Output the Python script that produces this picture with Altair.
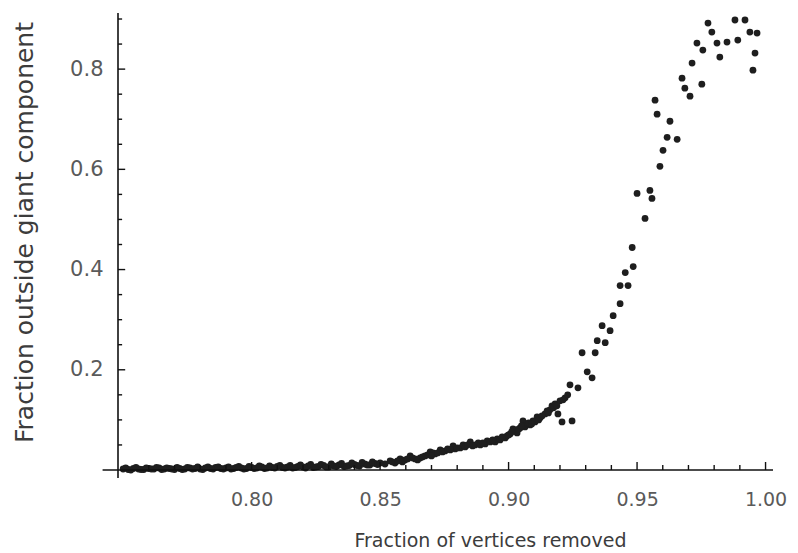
import altair as alt
import pandas as pd

# ---- data ----
flat_x = [0.750, 0.752, 0.754, 0.756, 0.758, 0.760, 0.762, 0.764, 0.766, 0.768,
          0.770, 0.772, 0.774, 0.776, 0.778, 0.780, 0.782, 0.784, 0.786, 0.788,
          0.790, 0.792, 0.794, 0.796, 0.798, 0.800, 0.802, 0.804, 0.806, 0.808,
          0.810, 0.812, 0.814, 0.816, 0.818, 0.820, 0.822, 0.824, 0.826, 0.828,
          0.830, 0.832, 0.834, 0.836, 0.838, 0.840, 0.842, 0.844, 0.846, 0.848]
flat_y = [0.002, 0.001, 0.003, 0.002, 0.001, 0.003, 0.002, 0.004, 0.002, 0.003,
          0.001, 0.003, 0.002, 0.004, 0.003, 0.002, 0.004, 0.003, 0.005, 0.003,
          0.004, 0.002, 0.005, 0.004, 0.003, 0.005, 0.004, 0.006, 0.004, 0.005,
          0.007, 0.005, 0.006, 0.004, 0.007, 0.006, 0.008, 0.005, 0.007, 0.009,
          0.006, 0.008, 0.010, 0.007, 0.009, 0.011, 0.008, 0.012, 0.010, 0.013]

flat2_x = [0.751, 0.753, 0.755, 0.757, 0.759, 0.761, 0.763, 0.765, 0.767, 0.769,
           0.771, 0.773, 0.775, 0.777, 0.779, 0.781, 0.783, 0.785, 0.787, 0.789,
           0.791, 0.793, 0.795, 0.797, 0.799, 0.801, 0.803, 0.805, 0.807, 0.809,
           0.811, 0.813, 0.815, 0.817, 0.819, 0.821, 0.823, 0.825, 0.827, 0.829,
           0.831, 0.833, 0.835, 0.837, 0.839, 0.841, 0.843, 0.845, 0.847, 0.849]
flat2_y = [0.004, 0.000, 0.005, 0.001, 0.004, 0.002, 0.005, 0.001, 0.004, 0.002,
           0.005, 0.001, 0.005, 0.002, 0.006, 0.001, 0.006, 0.002, 0.006, 0.002,
           0.006, 0.003, 0.007, 0.002, 0.007, 0.003, 0.008, 0.003, 0.008, 0.004,
           0.009, 0.004, 0.009, 0.005, 0.010, 0.004, 0.011, 0.006, 0.011, 0.006,
           0.012, 0.007, 0.013, 0.008, 0.014, 0.009, 0.015, 0.010, 0.016, 0.011]

rise_x = [0.8500, 0.8539, 0.8558, 0.8578, 0.8597, 0.8617, 0.8636, 0.8656, 0.8675, 0.8695,
          0.8706, 0.8714, 0.8734, 0.8753, 0.8784, 0.8792, 0.8812, 0.8823, 0.8831, 0.8851,
          0.8870, 0.8882, 0.8890, 0.8909, 0.8917, 0.8929, 0.8948, 0.8956, 0.8967, 0.8987,
          0.8994, 0.9006, 0.9017, 0.9025, 0.9033, 0.9045, 0.9056, 0.9064, 0.9072, 0.9084,
          0.9095, 0.9103, 0.9111, 0.9122, 0.9142, 0.9150, 0.9161, 0.9169, 0.9181, 0.9192,
          0.9200, 0.9208, 0.9220, 0.9239, 0.9247, 0.9270, 0.9286, 0.9306, 0.9325, 0.9337,
          0.9345, 0.9364, 0.9376, 0.9395, 0.9407, 0.9434, 0.9434, 0.9454, 0.9465, 0.9481,
          0.9485, 0.9500, 0.9531, 0.9550, 0.9558, 0.9570, 0.9578, 0.9589, 0.9601, 0.9617,
          0.9628, 0.9656, 0.9675, 0.9686, 0.9706, 0.9714, 0.9733, 0.9752, 0.9756, 0.9776,
          0.9791, 0.9811, 0.9822, 0.9850, 0.9881, 0.9892, 0.9920, 0.9939, 0.9951, 0.9959,
          0.9967]
rise_y = [0.014, 0.018, 0.014, 0.022, 0.020, 0.028, 0.022, 0.024, 0.028, 0.036,
          0.034, 0.032, 0.040, 0.038, 0.048, 0.042, 0.044, 0.050, 0.046, 0.056,
          0.050, 0.054, 0.050, 0.052, 0.058, 0.056, 0.056, 0.062, 0.060, 0.064,
          0.068, 0.072, 0.082, 0.080, 0.074, 0.084, 0.098, 0.086, 0.092, 0.090,
          0.098, 0.096, 0.106, 0.104, 0.112, 0.118, 0.120, 0.128, 0.132, 0.112,
          0.138, 0.096, 0.144, 0.170, 0.098, 0.164, 0.234, 0.196, 0.184, 0.234,
          0.258, 0.288, 0.254, 0.278, 0.308, 0.332, 0.368, 0.394, 0.368, 0.444,
          0.406, 0.552, 0.502, 0.558, 0.542, 0.738, 0.710, 0.606, 0.638, 0.664,
          0.696, 0.660, 0.782, 0.762, 0.746, 0.812, 0.852, 0.770, 0.838, 0.892,
          0.874, 0.852, 0.824, 0.854, 0.898, 0.858, 0.898, 0.874, 0.798, 0.832,
          0.872]

band_x = [0.8519, 0.8548, 0.8568, 0.8587, 0.8607, 0.8626, 0.8646, 0.8665, 0.8685, 0.8700,
          0.8724, 0.8743, 0.8763, 0.8773, 0.8800, 0.8840, 0.8860, 0.8900, 0.8938, 0.8975,
          0.9000, 0.9012, 0.9040, 0.9050, 0.9078, 0.9090, 0.9117, 0.9130, 0.9155, 0.9175,
          0.9188, 0.9212, 0.9230]
band_y = [0.012, 0.016, 0.018, 0.016, 0.022, 0.024, 0.020, 0.026, 0.030, 0.028,
          0.034, 0.036, 0.042, 0.040, 0.044, 0.050, 0.048, 0.054, 0.060, 0.066,
          0.070, 0.076, 0.082, 0.088, 0.094, 0.092, 0.100, 0.108, 0.114, 0.124,
          0.128, 0.140, 0.150]

x_labels = [0.80, 0.85, 0.90, 0.95, 1.00]
y_labels = [0.2, 0.4, 0.6, 0.8]
x_minor_ticks = [0.76, 0.77, 0.78, 0.79, 0.81, 0.82, 0.83, 0.84, 0.86, 0.87, 0.88, 0.89,
                 0.91, 0.92, 0.93, 0.94, 0.96, 0.97, 0.98, 0.99]
y_minor_ticks = [0.05, 0.10, 0.15, 0.25, 0.30, 0.35, 0.45, 0.50, 0.55, 0.65, 0.70,
                 0.75, 0.85, 0.90]

X_DOMAIN = [0.748, 1.0029]
Y_DOMAIN = [0.0, 0.912]
X0 = 0.748  # where the vertical axis sits

pts = pd.DataFrame({"x": flat_x + flat2_x + rise_x + band_x,
                    "y": flat_y + flat2_y + rise_y + band_y})

xs = alt.Scale(domain=X_DOMAIN, nice=False, zero=False)
ys = alt.Scale(domain=Y_DOMAIN, nice=False, zero=False)

FONT = "DejaVu Sans"

points = alt.Chart(pts).mark_circle(size=46, color="#1e1e1e", opacity=1).encode(
    x=alt.X("x:Q", scale=xs, axis=alt.Axis(
        values=x_labels, format=".2f", domain=False, ticks=False, tickSize=0, grid=False,
        labelFont=FONT, labelFontSize=19, labelColor="#5a5a5a", labelPadding=20,
        labelBaseline="top", title="Fraction of vertices removed",
        titleFont=FONT, titleFontSize=19, titleFontWeight="normal", titleColor="#3c3c3c",
        titleX=372, titleY=76, titleAlign="center", titleBaseline="alphabetic")),
    y=alt.Y("y:Q", scale=ys, axis=alt.Axis(
        values=y_labels, format=".1f", domain=False, ticks=False, tickSize=0, grid=False,
        labelFont=FONT, labelFontSize=21, labelColor="#5a5a5a", labelPadding=15,
        title="Fraction outside giant component",
        titleFont=FONT, titleFontSize=25, titleFontWeight="normal", titleColor="#3c3c3c",
        titleX=-94, titleY=219, titleAlign="center", titleBaseline="middle", titleAngle=270)),
)

# axis lines (Mathematica-style, crossing slightly)
axis_lines = pd.DataFrame({
    "x": [0.742, X0], "x2": [X_DOMAIN[1], X0],
    "y": [0.0, -0.016], "y2": [0.0, Y_DOMAIN[1]],
})
lines = alt.Chart(axis_lines).mark_rule(color="#111111", strokeWidth=1.6).encode(
    x=alt.X("x:Q", scale=xs), x2="x2:Q",
    y=alt.Y("y:Q", scale=ys), y2="y2:Q",
)

# inward ticks
tick_rows = []
for v in x_labels:
    tick_rows.append({"x": v, "x2": v, "y": 0.0, "y2": 0.016})
for v in x_minor_ticks:
    tick_rows.append({"x": v, "x2": v, "y": 0.0, "y2": 0.010})
for v in y_labels:
    tick_rows.append({"x": X0, "x2": X0 + 0.0028, "y": v, "y2": v})
for v in y_minor_ticks:
    tick_rows.append({"x": X0, "x2": X0 + 0.0016, "y": v, "y2": v})
ticks = alt.Chart(pd.DataFrame(tick_rows)).mark_rule(color="#111111", strokeWidth=1.4).encode(
    x=alt.X("x:Q", scale=xs), x2="x2:Q",
    y=alt.Y("y:Q", scale=ys), y2="y2:Q",
)

chart = alt.layer(points, lines, ticks).properties(
    width=655, height=457,
    autosize=alt.AutoSizeParams(type="none"),
    padding={"left": 118, "top": 13, "right": 25, "bottom": 83},
    background="white",
).configure_view(stroke=None)

chart.save("out.html", embed_options={"renderer": "svg", "actions": False})
